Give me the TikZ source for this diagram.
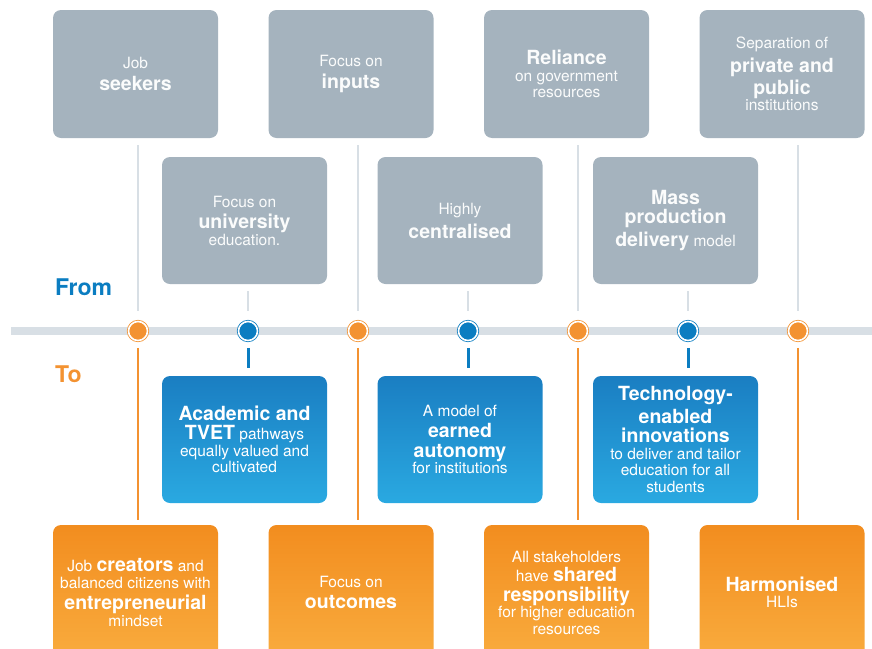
\documentclass[tikz,border=0pt]{standalone}
\usepackage{fontspec}
\setmainfont{TeX Gyre Heros}
\usepackage{tikz}
\usetikzlibrary{positioning}
\definecolor{boxgray}{HTML}{A5B3BE}
\definecolor{linegray}{HTML}{D8DFE5}
\definecolor{blueTop}{HTML}{1A7EC2}
\definecolor{blueBot}{HTML}{2AA9E1}
\definecolor{blueDot}{HTML}{0B7DC1}
\definecolor{orangeTop}{HTML}{F28D1F}
\definecolor{orangeBot}{HTML}{F9AC3E}
\definecolor{orangeDot}{HTML}{F39231}
\newcommand{\bigword}[1]{{\fontsize{19.5}{21}\selectfont\bfseries #1}}
\tikzset{
x=1pt, y=-1pt, % one unit is one pixel of the layout
node distance=215.5pt, % centre to centre spacing of the boxes in a row
oldbox/.style={rounded corners=8pt, minimum width=165pt, minimum height=128pt, align=center, fill=boxgray, text=white!96!boxgray, font=\fontsize{15.5}{16.5}\selectfont}, % the 'from' boxes
newbox/.style={oldbox, fill=none, text=white, top color=blueTop, bottom color=blueBot}, % the blue 'to' boxes
goalbox/.style={oldbox, fill=none, text=white, top color=orangeTop, bottom color=orangeBot, minimum height=135pt}, % the orange 'to' boxes
milestone/.style={circle, minimum size=19pt, inner sep=0pt, line width=0.8pt, double=white, double distance=1.6pt}, % dots on the timeline
fromline/.style={draw=linegray, line width=2pt, shorten <=7pt, shorten >=10pt},
toline/.style={draw=orangeDot, line width=2.5pt, shorten <=7pt, shorten >=5pt},
tick/.style={draw=blueDot, line width=3pt, shorten <=7pt, shorten >=8pt},
}
\begin{document}
\begin{tikzpicture}
\useasboundingbox (0,0) rectangle (872,648);
% from: upper row
\node[oldbox] (top1) at (135.5,74) {Job\\[5pt]\bigword{seekers}};
\node[oldbox, right of=top1] (top2) {Focus on\\[5pt]\bigword{inputs}};
\node[oldbox, right of=top2] (top3) {\bigword{Reliance}\\on government\\resources};
\node[oldbox, right of=top3] (top4) {Separation of\\[5pt]\bigword{private and}\\[2pt]\bigword{public}\\institutions};
% from: lower row
\node[oldbox, minimum height=127pt] (mid1) at (244.5,220.5) {Focus on\\[5pt]\bigword{university}\\education.};
\node[oldbox, minimum height=127pt, right of=mid1] (mid2) {Highly\\[5pt]\bigword{centralised}};
\node[oldbox, minimum height=127pt, right of=mid2] (mid3) {\bigword{Mass}\\[3pt]\bigword{production}\\[3pt]\bigword{delivery} model};
% to: blue row
\node[newbox, minimum height=127pt, below of=mid1, node distance=219pt] (new1) {\bigword{Academic and}\\[3pt]\bigword{TVET} pathways\\equally valued and\\cultivated};
\node[newbox, minimum height=127pt, right of=new1] (new2) {A model of\\[5pt]\bigword{earned}\\[3pt]\bigword{autonomy}\\for institutions};
\node[newbox, minimum height=127pt, right of=new2] (new3) {\bigword{Technology-}\\[3pt]\bigword{enabled}\\[3pt]\bigword{innovations}\\to deliver and tailor\\education for all\\students};
% to: orange row
\node[goalbox, below of=top1, node distance=518.5pt] (goal1) {Job \bigword{creators} and\\balanced citizens with\\[5pt]\bigword{entrepreneurial}\\mindset};
\node[goalbox, right of=goal1] (goal2) {Focus on\\[5pt]\bigword{outcomes}};
\node[goalbox, right of=goal2] (goal3) {All stakeholders\\[3pt]have \bigword{shared}\\[3pt]\bigword{responsibility}\\for higher education\\resources};
\node[goalbox, right of=goal3] (goal4) {\bigword{Harmonised}\\HLIs};
% labels
\node[anchor=base west, inner sep=0pt, text=blueDot, font=\fontsize{23}{26}\selectfont\bfseries] (from) at (55,295) {From};
\node[anchor=base west, inner sep=0pt, text=orangeDot, font=\fontsize{23}{26}\selectfont\bfseries] (to) at (55,382) {To};
% timeline
\coordinate (tl-start) at (11,331);
\coordinate (tl-end) at (872,331);
\draw[linegray, line width=8pt] (tl-start) -- (tl-end);
\node[milestone, fill=orangeDot, draw=orangeDot] (m1) at (138,331) {};
\node[milestone, fill=blueDot, draw=blueDot, right of=m1, node distance=110pt] (m2) {};
\node[milestone, fill=orangeDot, draw=orangeDot, right of=m2, node distance=110pt] (m3) {};
\node[milestone, fill=blueDot, draw=blueDot, right of=m3, node distance=110pt] (m4) {};
\node[milestone, fill=orangeDot, draw=orangeDot, right of=m4, node distance=110pt] (m5) {};
\node[milestone, fill=blueDot, draw=blueDot, right of=m5, node distance=110pt] (m6) {};
\node[milestone, fill=orangeDot, draw=orangeDot, right of=m6, node distance=110pt] (m7) {};
\path
    (m1 |- top1.south) edge[fromline] (m1)
    (m3 |- top2.south) edge[fromline] (m3)
    (m5 |- top3.south) edge[fromline] (m5)
    (m7 |- top4.south) edge[fromline] (m7)
    (m2 |- mid1.south) edge[fromline] (m2)
    (m4 |- mid2.south) edge[fromline] (m4)
    (m6 |- mid3.south) edge[fromline] (m6)
    (m1) edge[toline] (m1 |- goal1.north)
    (m3) edge[toline] (m3 |- goal2.north)
    (m5) edge[toline] (m5 |- goal3.north)
    (m7) edge[toline] (m7 |- goal4.north)
    (m2) edge[tick] (m2 |- new1.north)
    (m4) edge[tick] (m4 |- new2.north)
    (m6) edge[tick] (m6 |- new3.north)
    ;
\end{tikzpicture}
\end{document}
